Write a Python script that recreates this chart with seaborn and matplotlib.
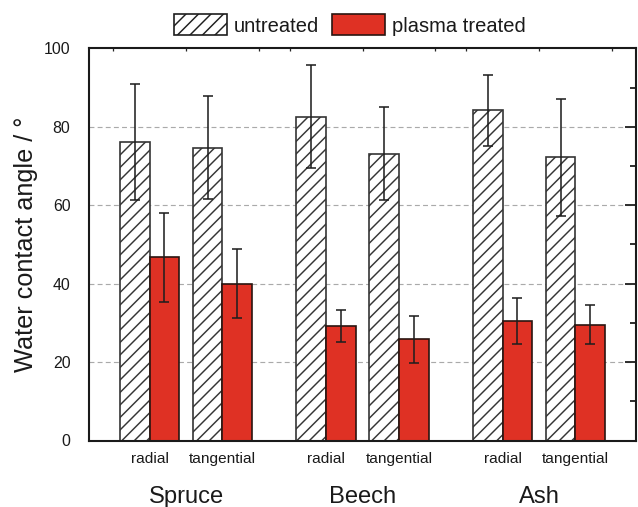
import numpy as np
import pandas as pd
import matplotlib
matplotlib.use("Agg")
import matplotlib.pyplot as plt
from matplotlib.patches import Patch
from matplotlib.ticker import MultipleLocator
import seaborn as sns

# ---- data ----
species = ["Spruce", "Beech", "Ash"]
orientations = ["radial", "tangential"]
treatments = ["untreated", "plasma treated"]
untreated_mean = [76.2, 74.7, 82.6, 73.1, 84.2, 72.2]
untreated_err = [14.8, 13.2, 13.2, 11.9, 9.1, 15.0]
treated_mean = [46.7, 40.0, 29.2, 25.8, 30.4, 29.5]
treated_err = [11.3, 8.7, 4.2, 6.0, 5.85, 5.0]
y_ticks = [0, 20, 40, 60, 80, 100]

# ---- layout ----
DPI = 150
GROUP_STEP = 2.42
RED = "#DF3124"
TXT = "#1a1a1a"
HATCH = "////"

sns.set_style("white")
plt.rcParams["font.family"] = ["Liberation Sans", "DejaVu Sans"]
plt.rcParams["hatch.linewidth"] = 0.7

group_pos = [g * GROUP_STEP for g in range(len(species))]
rows = []
for g, sp in enumerate(species):
    for s, ori in enumerate(orientations):
        i = g * len(orientations) + s
        pos = group_pos[g] + s - 0.5
        rows.append(dict(pos=pos, angle=untreated_mean[i], treatment=treatments[0]))
        rows.append(dict(pos=pos, angle=treated_mean[i], treatment=treatments[1]))
df = pd.DataFrame(rows)

fig = plt.figure(figsize=(638 / DPI, 507 / DPI), dpi=DPI)
ax = fig.add_axes([89 / 638, 1 - 440.5 / 507, (636 - 89) / 638, (440.5 - 48.3) / 507])

sns.barplot(data=df, x="pos", y="angle", hue="treatment", hue_order=treatments,
            native_scale=True, width=0.82, errorbar=None, legend=False,
            palette={treatments[0]: "white", treatments[1]: RED},
            saturation=1, ax=ax)

cont_u, cont_t = ax.containers[0], ax.containers[1]
for p in cont_u.patches:
    p.set_hatch(HATCH)
    p.set_edgecolor("#353535")
    p.set_linewidth(0.8)
for p in cont_t.patches:
    p.set_edgecolor("#2a1510")
    p.set_linewidth(0.8)

def centers(cont):
    ps = sorted(cont.patches, key=lambda p: p.get_x())
    return [p.get_x() + p.get_width() / 2 for p in ps]

err_kw = dict(fmt="none", ecolor="#1e1e1e", elinewidth=0.75, capsize=2.2, capthick=0.75, zorder=5)
ax.errorbar(centers(cont_u), untreated_mean, yerr=untreated_err, **err_kw)
ax.errorbar(centers(cont_t), treated_mean, yerr=treated_err, **err_kw)

# axes
ax.set_xlim(group_pos[0] - 1.33, group_pos[-1] + 1.33)
ax.set_ylim(0, 100)
ax.set_yticks(y_ticks)
ax.yaxis.set_minor_locator(MultipleLocator(10))
ax.tick_params(axis="y", which="major", direction="out", length=5.3, width=0.9,
               labelsize=7.6, colors=TXT, pad=3.6)
ax.tick_params(axis="y", which="minor", direction="out", length=2.9, width=0.9)
ax.tick_params(axis="y", which="both", right=False, labelright=False)

pair_x = [gp + s - 0.5 for gp in group_pos for s in range(len(orientations))]
ax.set_xticks(pair_x)
ax.set_xticklabels(orientations * len(species))
ax.tick_params(axis="x", which="major", length=0, labelsize=7.4, colors=TXT, pad=5.5)
# top small ticks
ax.set_xticks([gp + k * 0.5 for gp in group_pos for k in (-2, -1, 0, 1, 2)], minor=True)
ax.tick_params(axis="x", which="minor", top=True, bottom=False, direction="in", length=1.6, width=0.6)

# right-side inward ticks
sec = ax.secondary_yaxis("right")
sec.set_yticks(y_ticks)
sec.yaxis.set_minor_locator(MultipleLocator(10))
sec.tick_params(axis="y", which="major", direction="in", length=5.3, width=0.9, labelright=False)
sec.tick_params(axis="y", which="minor", direction="in", length=2.9, width=0.9)
sec.spines["right"].set_visible(False)

ax.set_xlabel("")
ax.set_ylabel("Water contact angle / °", fontsize=12.1, color=TXT)
ax.yaxis.set_label_coords(-0.094, 0.5)

ax.grid(False)
for yv in y_ticks[1:-1]:
    ax.axhline(yv, color="#aaaaaa", lw=0.55, ls=(0, (4.3, 2.8)), zorder=0)
ax.set_axisbelow(True)

for side in ["left", "bottom", "top", "right"]:
    ax.spines[side].set_visible(True)
    ax.spines[side].set_color("#1a1a1a")
    ax.spines[side].set_linewidth(1.0)

# group labels
for gp, sp in zip(group_pos, species):
    ax.text(gp, -0.1435, sp, transform=ax.get_xaxis_transform(), ha="center", va="center",
            fontsize=11.4, color=TXT)

handles = [Patch(facecolor="white", edgecolor="#1e1e1e", hatch=HATCH, lw=0.8, label=treatments[0]),
           Patch(facecolor=RED, edgecolor="#2a1510", lw=0.8, label=treatments[1])]
fig.legend(handles=handles, loc="center", bbox_to_anchor=(0.5486, 0.951), ncol=2, frameon=False,
           fontsize=9.7, handlelength=2.6, handleheight=1.25, handletextpad=0.35,
           columnspacing=0.65, labelcolor=TXT)

fig.savefig("out.png", dpi=DPI)
